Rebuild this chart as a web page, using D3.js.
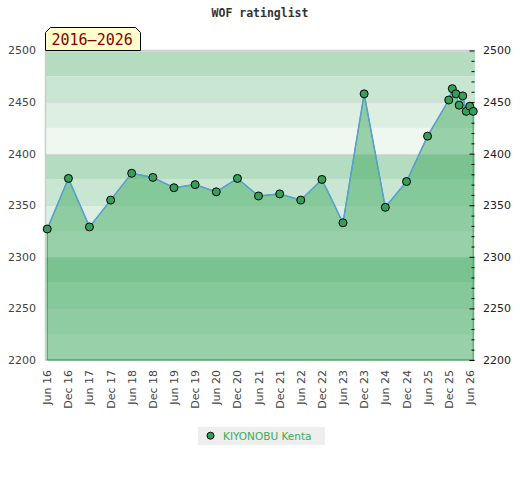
<!DOCTYPE html>
<html>
<head>
<meta charset="utf-8">
<script src="https://cdn.jsdelivr.net/npm/d3@7"></script>
<style>
  body { margin: 0; background: #fff; }
  svg { display: block; }
</style>
</head>
<body>
<svg id="chart" width="520" height="480"></svg>
<script>
// WOF rating history

var dates = ["2016-06", "2016-12", "2017-06", "2017-12", "2018-06", "2018-12",
             "2019-06", "2019-12", "2020-06", "2020-12", "2021-06", "2021-12",
             "2022-06", "2022-12", "2023-06", "2023-12", "2024-06", "2024-12",
             "2025-06", "2025-12", "2026-01", "2026-02", "2026-03", "2026-04",
             "2026-05", "2026-06", "2026-07"];
var ratings = [2327, 2376, 2329, 2355, 2381, 2377,
               2367, 2370, 2363, 2376, 2359, 2361,
               2355, 2375, 2333, 2458, 2348, 2373,
               2417, 2452, 2463, 2458, 2447, 2456,
               2441, 2446, 2441];
var yTicks = [2200, 2250, 2300, 2350, 2400, 2450, 2500];
var playerName = "KIYONOBU Kenta";
var periodLabel = "2016\u20132026";
var title = "WOF ratinglist";

var svg = d3.select("#chart");
var plotLeft = 45.5, plotRight = 475, plotTop = 50.5, plotBottom = 360;

var parse = d3.timeParse("%Y-%m");
var data = dates.map(function (d, i) { return { date: parse(d), rating: ratings[i] }; });

var x = d3.scaleTime()
    .domain([d3.timeDay.offset(data[0].date, -15), d3.timeDay.offset(data[data.length - 1].date, 15)])
    .range([plotLeft, plotRight]);
var y = d3.scaleLinear().domain([2200, 2500]).range([plotBottom, plotTop]);

// background bands, every 25 points, darkest at the top of each hundred
var bandColors = ["#eef7f0", "#dcefe2", "#c8e6d2", "#b3dcc1"];
svg.append("g").selectAll("rect")
    .data(d3.range(2200, 2500, 25))
    .enter().append("rect")
    .attr("x", plotLeft)
    .attr("width", plotRight - plotLeft)
    .attr("y", function (d) { return y(d + 25); })
    .attr("height", function (d) { return y(d) - y(d + 25); })
    .attr("fill", function (d) { return bandColors[((d - 2200) / 25) % 4]; });

svg.append("g").selectAll("line")
    .data(yTicks)
    .enter().append("line")
    .attr("x1", plotLeft).attr("x2", plotRight)
    .attr("y1", function (d) { return Math.round(y(d)) + 0.5; })
    .attr("y2", function (d) { return Math.round(y(d)) + 0.5; })
    .attr("stroke", "#d8dcd9")
    .attr("stroke-width", 1);

// plot frame
svg.append("path")
    .attr("d", "M" + plotRight + "," + plotTop + "H" + plotLeft + "V" + plotBottom + "H" + plotRight)
    .attr("fill", "none")
    .attr("stroke", "#cccccc")
    .attr("stroke-width", 1.5);

// area + line
var area = d3.area()
    .x(function (d) { return x(d.date); })
    .y0(y(2200))
    .y1(function (d) { return y(d.rating); });
svg.append("path")
    .datum(data)
    .attr("d", area)
    .attr("fill", "rgb(65,170,97)")
    .attr("fill-opacity", 0.5)
    .attr("stroke", "#2fa04f")
    .attr("stroke-width", 1);

var line = d3.line()
    .x(function (d) { return x(d.date); })
    .y(function (d) { return y(d.rating); });
svg.append("path")
    .datum(data)
    .attr("d", line)
    .attr("fill", "none")
    .attr("stroke", "#5a9fd4")
    .attr("stroke-width", 1.5);

// right axis: minor ticks every 10, longer ticks every 50
var ra = svg.append("g")
    .attr("transform", "translate(" + (plotRight - 0.5) + ",0)")
    .call(d3.axisLeft(y)
        .tickValues(d3.range(2200, 2501, 10))
        .tickSize(3)
        .tickFormat(""));
ra.select(".domain").remove();
ra.selectAll("line")
    .attr("stroke", "#000")
    .attr("x2", function (d) { return d % 50 === 0 ? -5 : -3; });

// points
svg.append("g").selectAll("circle")
    .data(data)
    .enter().append("circle")
    .attr("cx", function (d) { return x(d.date); })
    .attr("cy", function (d) { return y(d.rating); })
    .attr("r", 4)
    .attr("fill", "#36a05a")
    .attr("stroke", "#000")
    .attr("stroke-width", 1);

// left axis labels
svg.append("g").selectAll("text")
    .data(yTicks)
    .enter().append("text")
    .attr("x", 36)
    .attr("y", function (d) { return y(d); })
    .attr("dy", "0.35em")
    .attr("text-anchor", "end")
    .style("font", "11px 'DejaVu Sans'")
    .attr("fill", "#444")
    .text(function (d) { return d; });

// right axis labels
svg.append("g").selectAll("text")
    .data(yTicks)
    .enter().append("text")
    .attr("x", 483)
    .attr("y", function (d) { return y(d); })
    .attr("dy", "0.35em")
    .style("font", "11px 'DejaVu Sans'")
    .attr("fill", "#222")
    .text(function (d) { return d; });

// x axis labels every half year
var xTickDates = d3.timeMonth.range(parse("2016-06"), d3.timeDay.offset(parse("2026-06"), 1))
    .filter(function (d) { return d.getMonth() === 5 || d.getMonth() === 11; });
var fmt = d3.timeFormat("%b %y");
svg.append("g").selectAll("text")
    .data(xTickDates)
    .enter().append("text")
    .attr("transform", function (d) { return "translate(" + (x(d) + 4) + ",370) rotate(-90)"; })
    .attr("text-anchor", "end")
    .style("font", "11px 'DejaVu Sans'")
    .attr("fill", "#444")
    .text(function (d) { return fmt(d); });

// title
svg.append("text")
    .attr("x", 260)
    .attr("y", 16.5)
    .attr("text-anchor", "middle")
    .style("font", "bold 11.5px 'DejaVu Sans Mono'")
    .attr("fill", "#333")
    .text(title);

// period label box with chamfered top corners
var bx0 = 45.5, bx1 = 140.5, by0 = 27.5, by1 = 50.5, c = 5;
svg.append("path")
    .attr("d", "M" + bx0 + "," + by1 + "V" + (by0 + c) + "L" + (bx0 + c) + "," + by0 +
        "H" + (bx1 - c) + "L" + bx1 + "," + (by0 + c) + "V" + by1 + "Z")
    .attr("fill", "#ffffcc")
    .attr("stroke", "#000")
    .attr("stroke-width", 1);
svg.append("text")
    .attr("x", 51.5)
    .attr("y", 45)
    .style("font", "15px 'DejaVu Sans Mono'")
    .attr("fill", "#8b0000")
    .text(periodLabel);

// legend
var legend = svg.append("g");
legend.append("rect")
    .attr("x", 198).attr("y", 427)
    .attr("width", 127).attr("height", 18)
    .attr("fill", "#eeeeee");
legend.append("circle")
    .attr("cx", 210.5).attr("cy", 435.7)
    .attr("r", 3.5)
    .attr("fill", "#36a05a")
    .attr("stroke", "#000");
legend.append("text")
    .attr("x", 223).attr("y", 439.5)
    .style("font", "10.5px 'DejaVu Sans'")
    .attr("fill", "#3aaa5c")
    .text(playerName);
</script>
</body>
</html>
